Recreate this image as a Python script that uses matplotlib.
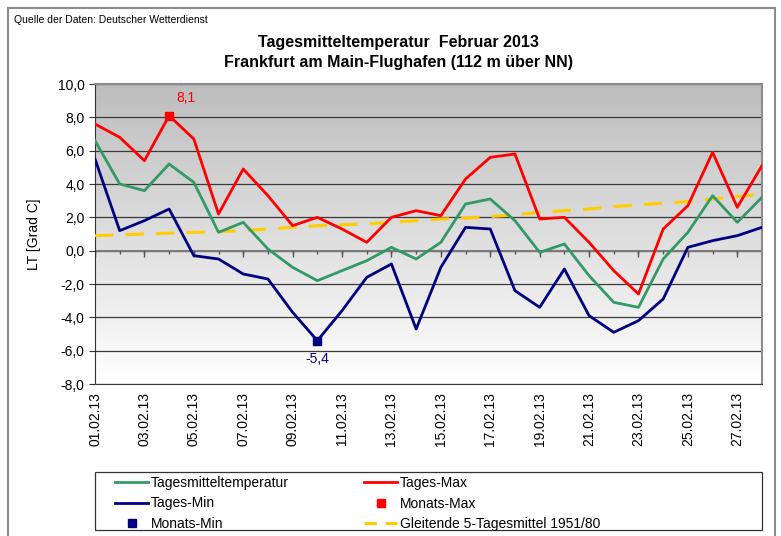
import numpy as np
import matplotlib
matplotlib.use("Agg")
import matplotlib.pyplot as plt
from matplotlib.patches import Rectangle
from matplotlib.lines import Line2D

plt.rcParams["font.family"] = ["Liberation Sans", "DejaVu Sans"]

# Data
days = np.arange(1, 29)
day_labels = ["%02d.02.13" % d for d in days]
t_mean = [6.6, 4.0, 3.6, 5.2, 4.1, 1.1, 1.7, 0.1, -1.0, -1.8, -1.2, -0.6, 0.2, -0.5,
          0.5, 2.8, 3.1, 1.8, -0.1, 0.4, -1.5, -3.1, -3.4, -0.5, 1.1, 3.3, 1.7, 3.2]
t_max = [7.6, 6.8, 5.4, 8.1, 6.7, 2.2, 4.9, 3.3, 1.5, 2.0, 1.3, 0.5, 2.0, 2.4,
         2.1, 4.3, 5.6, 5.8, 1.9, 2.0, 0.5, -1.2, -2.6, 1.3, 2.7, 5.9, 2.6, 5.1]
t_min = [5.5, 1.2, 1.8, 2.5, -0.3, -0.5, -1.4, -1.7, -3.7, -5.4, -3.6, -1.6, -0.8, -4.7,
         -1.0, 1.4, 1.3, -2.4, -3.4, -1.1, -3.9, -4.9, -4.2, -2.9, 0.2, 0.6, 0.9, 1.4]
t_clim = [0.9, 0.95, 1.0, 1.05, 1.1, 1.15, 1.2, 1.3, 1.4, 1.5, 1.55, 1.6, 1.7, 1.8,
          1.9, 1.95, 2.05, 2.15, 2.3, 2.4, 2.5, 2.65, 2.75, 2.85, 2.95, 3.1, 3.25, 3.4]

i_max = int(np.argmax(t_max))
i_min = int(np.argmin(t_min))

c_mean = "#339966"
c_max = "#ff0000"
c_min = "#000080"
c_clim = "#ffcc00"

fig = plt.figure(figsize=(7.81, 5.36), dpi=100)
fig.patch.set_facecolor("white")
# outer frame
fig.patches.append(Rectangle((8 / 781, -0.01), 767 / 781, 1 - 8 / 536 + 0.01,
                             transform=fig.transFigure, fill=False,
                             edgecolor="#8c8c8c", linewidth=1.5))

ax = fig.add_axes([95 / 781, 152 / 536, 667 / 781, 300 / 536])

# gradient background (white at bottom, gray at top)
grad = np.linspace(0, 1, 256).reshape(-1, 1)
cmap = matplotlib.colors.LinearSegmentedColormap.from_list("bg", ["#ffffff", "#bdbdbd"])
ax.imshow(grad, extent=[days[0], days[-1], -8, 10], aspect="auto", cmap=cmap,
          zorder=0, origin="lower")
ax.set_xlim(days[0], days[-1])
ax.set_ylim(-8, 10)

ax.set_yticks(np.arange(-8, 11, 2))
ax.set_yticklabels([("%.1f" % v).replace(".", ",") for v in np.arange(-8, 11, 2)],
                   fontsize=10)
ax.grid(axis="y", color="#3a3a3a", linewidth=0.9, zorder=1)
ax.tick_params(axis="y", length=4, color="#333333")

ax.set_xticks(days[::2])
ax.set_xticklabels(day_labels[::2], rotation=90, fontsize=10)
ax.tick_params(axis="x", length=0, pad=6)

# zero axis with ticks
ax.axhline(0, color="#7a7a7a", linewidth=1.5, zorder=2)
ax.vlines(days, -0.2, 0, color="#555555", linewidth=1, zorder=2)
ax.vlines(days[::2], -0.35, 0, color="#555555", linewidth=1, zorder=2)

for s in ["top", "right"]:
    ax.spines[s].set_color("#8c8c8c")
    ax.spines[s].set_linewidth(1.5)
ax.spines["left"].set_color("#333333")
ax.spines["bottom"].set_color("#3a3a3a")

ax.plot(days, t_clim, color=c_clim, linewidth=2.2, dashes=(6, 4), zorder=3)
ax.plot(days, t_mean, color=c_mean, linewidth=2, zorder=4)
ax.plot(days, t_min, color=c_min, linewidth=2, zorder=5)
ax.plot(days, t_max, color=c_max, linewidth=2, zorder=6)
ax.plot(days[i_max], t_max[i_max], "s", color=c_max, markersize=6, zorder=7)
ax.plot(days[i_min], t_min[i_min], "s", color=c_min, markersize=6, zorder=7)
ax.annotate(("%.1f" % t_max[i_max]).replace(".", ","), (days[i_max], t_max[i_max]),
            xytext=(12, 10), textcoords="offset points", ha="center",
            color=c_max, fontsize=10)
ax.annotate(("%.1f" % t_min[i_min]).replace(".", ","), (days[i_min], t_min[i_min]),
            xytext=(0, -16), textcoords="offset points", ha="center",
            color=c_min, fontsize=10)

ax.set_ylabel("LT [Grad C]", fontsize=10, labelpad=12)

fig.text(14 / 781, 1 - 20 / 536, "Quelle der Daten: Deutscher Wetterdienst",
         fontsize=7.5, va="center", ha="left")
fig.text(398 / 781, 1 - 42 / 536, "Tagesmitteltemperatur  Februar 2013",
         fontsize=11.5, fontweight="bold", ha="center", va="center")
fig.text(398 / 781, 1 - 62 / 536, "Frankfurt am Main-Flughafen (112 m über NN)",
         fontsize=11.5, fontweight="bold", ha="center", va="center")

# legend box
fig.patches.append(Rectangle((95 / 781, 6 / 536), 667 / 781, 58 / 536,
                             transform=fig.transFigure, fill=False,
                             edgecolor="#333333", linewidth=0.9))
handles = [
    Line2D([], [], color=c_mean, linewidth=2),
    Line2D([], [], color=c_min, linewidth=2),
    Line2D([], [], color=c_min, marker="s", linestyle="none", markersize=6),
    Line2D([], [], color=c_max, linewidth=2),
    Line2D([], [], color=c_max, marker="s", linestyle="none", markersize=6),
    Line2D([], [], color=c_clim, linewidth=2.2, dashes=(4, 3)),
]
labels = ["Tagesmitteltemperatur", "Tages-Min", "Monats-Min",
          "Tages-Max", "Monats-Max", "Gleitende 5-Tagesmittel 1951/80"]
leg = fig.legend(handles, labels, ncol=2, loc="center left",
                 bbox_to_anchor=(115 / 781, 32.5 / 536),
                 fontsize=10, frameon=False,
                 handlelength=2.4, handletextpad=0.2, labelspacing=0.45,
                 columnspacing=5.4, borderpad=0, borderaxespad=0)

fig.savefig("out.png", dpi=100)
